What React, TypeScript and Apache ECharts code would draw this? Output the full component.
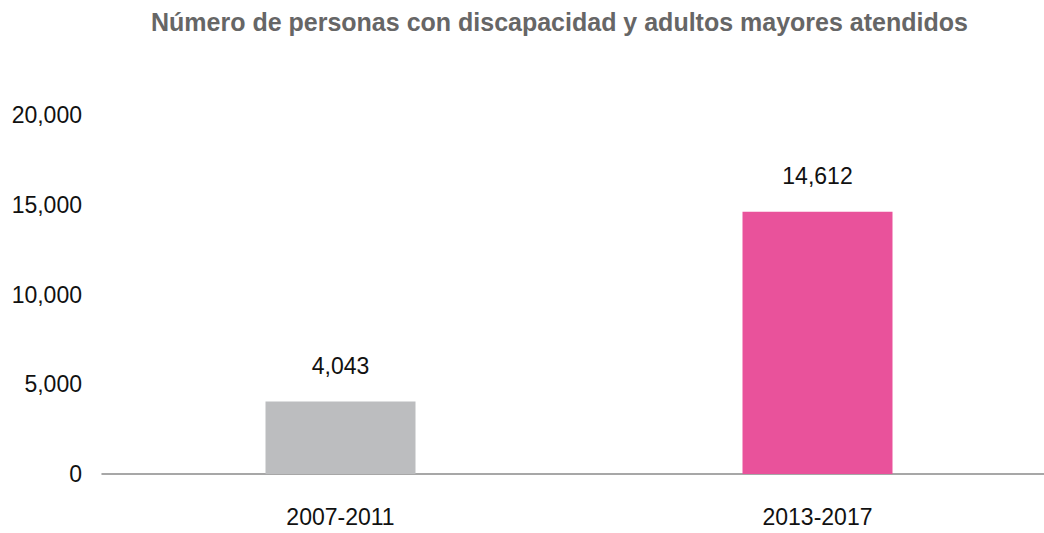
import React, { useEffect, useRef } from "react";
import * as echarts from "echarts";

const titleText = "Número de personas con discapacidad y adultos mayores atendidos";
const categories = ["2007-2011", "2013-2017"];
const values = [4043, 14612];
const barColors = ["#BCBDBF", "#E9529B"];
const yMin = 0;
const yMax = 20000;
const yInterval = 5000;

const fmt = (v: number) => v.toLocaleString("en-US");

export default function App() {
  const ref = useRef<HTMLDivElement>(null);
  useEffect(() => {
    document.body.style.margin = "0";
    const chart = echarts.init(ref.current!, null, { renderer: "svg" });
    const font = "'Liberation Sans', Arial, Helvetica, sans-serif";
    chart.setOption({
      animation: false,
      title: {
        text: titleText,
        left: 146,
        top: 4,
        textStyle: { fontFamily: font, fontSize: 25, fontWeight: "bold", color: "#666666" },
      },
      grid: { left: 102, right: 4, top: 115, bottom: 59, containLabel: false, outerBoundsMode: "none" },
      xAxis: {
        type: "category",
        data: categories,
        axisLine: { show: true, lineStyle: { color: "#8a8a8a", width: 1.5 } },
        axisTick: { show: false },
        axisLabel: { fontFamily: font, fontSize: 23, color: "#111111", margin: 31 },
        splitLine: { show: false },
      },
      yAxis: {
        type: "value",
        min: yMin,
        max: yMax,
        interval: yInterval,
        axisLine: { show: false },
        axisTick: { show: false },
        splitLine: { show: false },
        axisLabel: {
          fontFamily: font,
          fontSize: 23,
          color: "#111111",
          margin: 20,
          formatter: (v: number) => fmt(v),
        },
      },
      series: [
        {
          type: "bar",
          barWidth: 150,
          data: values.map((v, i) => ({ value: v, itemStyle: { color: barColors[i] } })),
          label: {
            show: true,
            position: "top",
            distance: 24,
            fontFamily: font,
            fontSize: 23,
            color: "#111111",
            formatter: (p: any) => fmt(p.value),
          },
        },
      ],
    });
    return () => chart.dispose();
  }, []);
  return (
    <div style={{ width: 1044, height: 533, overflow: "hidden", position: "relative" }}>
      <div ref={ref} style={{ width: 1060, height: 533 }} />
    </div>
  );
}
